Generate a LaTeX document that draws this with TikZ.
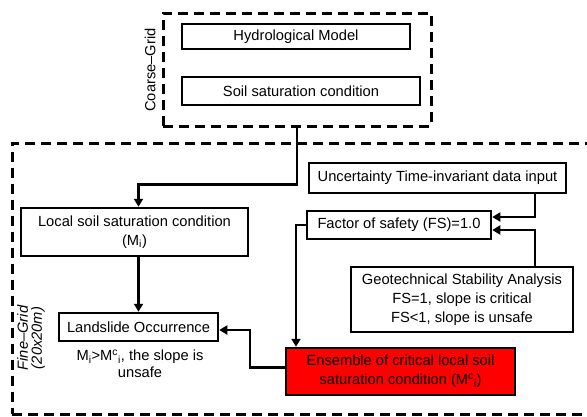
\documentclass[tikz,border=0pt]{standalone}
\usepackage{amsmath}
\usepackage{fontspec}
\setmainfont{Liberation Sans}
\usetikzlibrary{arrows.meta,calc}

\newcommand{\Mci}{M$^{\text{c}}{}_{\text{i}}$}

\begin{document}
\begin{tikzpicture}[x=1pt,y=-1pt,
  font=\fontsize{14.7}{19}\selectfont,
  box/.style={draw,line width=2.5pt,inner sep=0pt,align=center},
  grid/.style={draw,line width=3pt,dash pattern=on 10pt off 6pt,inner sep=0pt},
  link/.style={line width=2.4pt,-{Triangle[width=9pt,length=8pt]}}]
\clip (0,0) rectangle (587,416);

\node[grid,minimum width=268,minimum height=113] (coarse) at (297,69.5) {};
\node[grid,minimum width=588,minimum height=271] (fine) at (306,278.5) {};

\node[rotate=90] (coarselbl) at (150,70) {Coarse--Grid};
\node[rotate=90,align=center,font=\fontsize{14.7}{14}\selectfont\itshape] (finelbl) at (31,338) {Fine--Grid\\(20x20m)};

\node[box,minimum width=228,minimum height=25] (hydro) at (296,36.5) {Hydrological Model};
\node[box,minimum width=238,minimum height=28] (soil) at (301,91) {Soil saturation condition};

\node[box,minimum width=227,minimum height=48] (local) at (134.5,232) {Local soil saturation condition\\(M$_{\text{i}}$)};
\node[box,minimum width=159,minimum height=28] (landslide) at (138.5,327) {Landslide Occurrence};
\node[align=center,font=\fontsize{14.7}{17}\selectfont] (unsafe) at (140,364) {M$_{\text{i}}$>\Mci, the slope is\\unsafe};

\node[box,minimum width=257,minimum height=30] (uncert) at (437.5,178) {Uncertainty Time-invariant data input};
\node[box,minimum width=184,minimum height=28] (fs) at (399,225) {Factor of safety (FS)=1.0};
\node[box,minimum width=222,minimum height=65] (geotech) at (462,299.5) {Geotechnical Stability Analysis\\FS=1, slope is critical\\FS<1, slope is unsafe};
\node[box,fill=red,minimum width=229,minimum height=47] (critical) at (400.5,371.5) {Ensemble of critical local soil\\saturation condition (\Mci)};

\draw[link] (coarse.south) -- ++(0,57) -| (landslide.north |- local.north);
\draw[link] (landslide.north |- local.south) -- (landslide.north);
\draw[link] ([xshift=97.5pt]uncert.south) |- ([yshift=8pt]fs.east);
\draw[link] ([xshift=73pt]geotech.north) |- ([yshift=-5pt]fs.east);
\draw[link] (fs.west) -| ([xshift=-104.5pt]critical.north);
\draw[link] ([yshift=4pt]critical.west) -- ++(-35,0) |- ([yshift=-3pt]landslide.east);

\end{tikzpicture}
\end{document}
